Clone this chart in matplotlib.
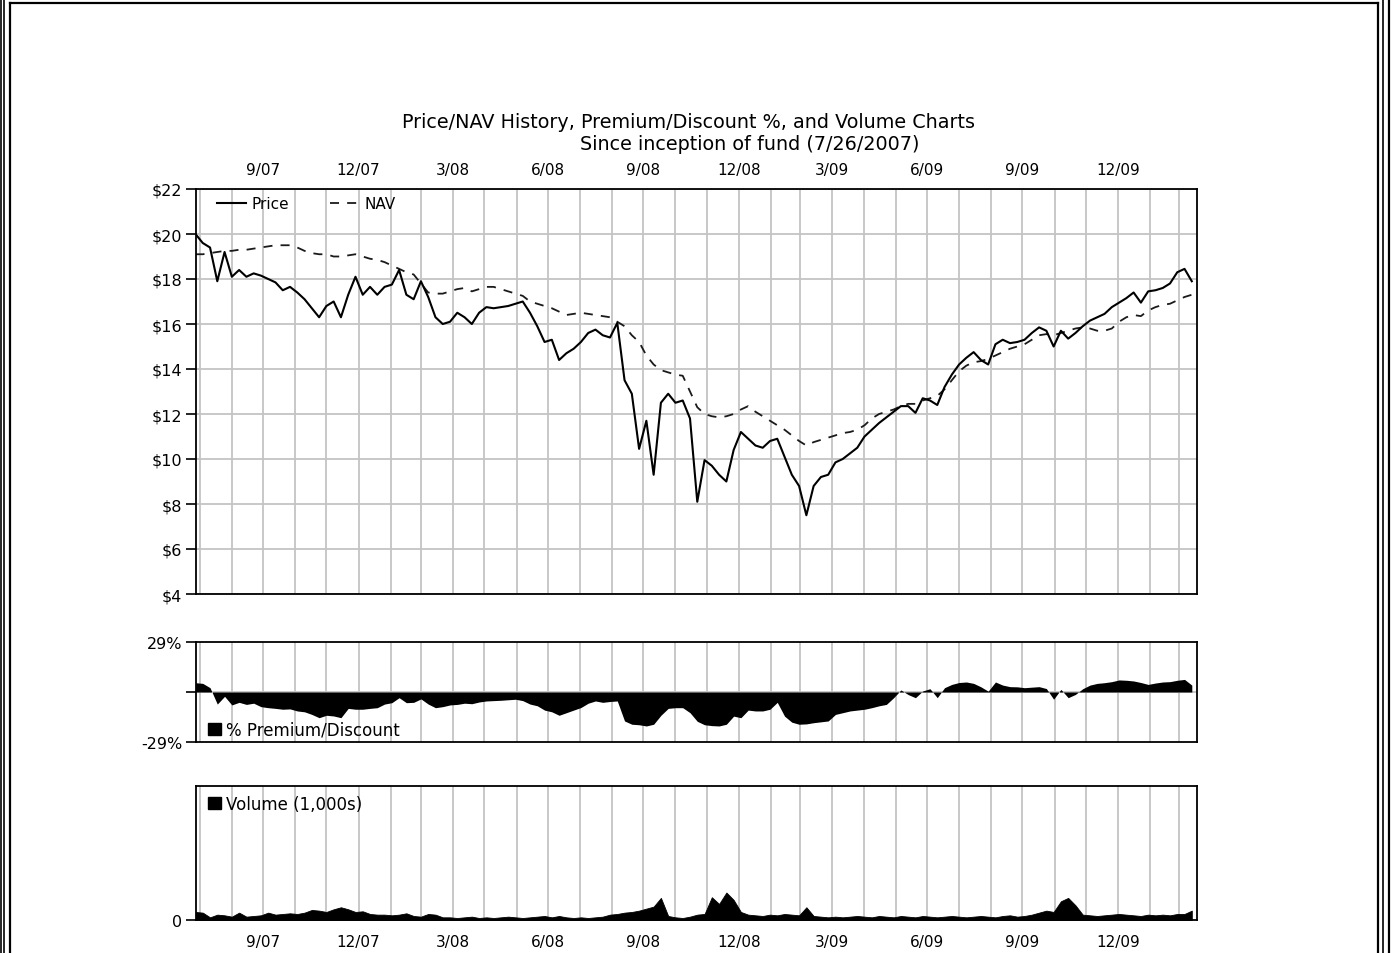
import numpy as np
import pandas as pd
import matplotlib
matplotlib.use("Agg")
import matplotlib.pyplot as plt
from matplotlib.lines import Line2D
from matplotlib.patches import Patch
import matplotlib.dates as mdates

plt.rcParams['font.family'] = ['DejaVu Sans']

# ---------------- data (weekly observations from 7/27/2007) ----------------
start_date = "2007-07-27"

price = [
    20.0, 19.6, 19.4, 17.9, 19.2, 18.1, 18.4, 18.1, 18.25, 18.15,
    18.0, 17.85, 17.5, 17.65, 17.4, 17.1, 16.7, 16.3, 16.8, 17.0,
    16.3, 17.3, 18.1, 17.3, 17.65, 17.3, 17.65, 17.75, 18.4, 17.3,
    17.1, 17.9, 17.2, 16.3, 16.0, 16.1, 16.5, 16.3, 16.0, 16.5,
    16.75, 16.7, 16.75, 16.8, 16.9, 17.0, 16.5, 15.9, 15.2, 15.3,
    14.4, 14.7, 14.9, 15.2, 15.6, 15.75, 15.5, 15.4, 16.05, 13.5,
    12.9, 10.45, 11.7, 9.3, 12.5, 12.9, 12.5, 12.6, 11.8, 8.1,
    9.95, 9.7, 9.3, 9.0, 10.4, 11.2, 10.9, 10.6, 10.5, 10.8,
    10.9, 10.1, 9.3, 8.8, 7.5, 8.8, 9.2, 9.3, 9.85, 10.0,
    10.25, 10.5, 11.0, 11.3, 11.6, 11.85, 12.1, 12.35, 12.35, 12.05,
    12.7, 12.6, 12.4, 13.2, 13.75, 14.2, 14.5, 14.75, 14.4, 14.2,
    15.1, 15.3, 15.15, 15.2, 15.3, 15.6, 15.85, 15.7, 15.0, 15.7,
    15.35, 15.6, 15.9, 16.15, 16.3, 16.45, 16.75, 16.95, 17.15, 17.4,
    16.95, 17.45, 17.5, 17.6, 17.8, 18.3, 18.45, 17.9,
]

nav = [
    19.1, 19.1, 19.15, 19.2, 19.25, 19.25, 19.3, 19.3, 19.35, 19.4,
    19.45, 19.5, 19.5, 19.5, 19.4, 19.25, 19.15, 19.1, 19.1, 19.0,
    19.0, 19.05, 19.1, 19.0, 18.9, 18.85, 18.75, 18.6, 18.45, 18.3,
    18.2, 17.8, 17.4, 17.35, 17.35, 17.45, 17.55, 17.6, 17.45, 17.55,
    17.65, 17.65, 17.55, 17.45, 17.35, 17.25, 17.0, 16.9, 16.8, 16.7,
    16.55, 16.4, 16.45, 16.5, 16.45, 16.4, 16.35, 16.3, 16.1, 15.9,
    15.5, 15.2, 14.6, 14.2, 13.95, 13.85, 13.75, 13.7, 13.0, 12.3,
    12.0, 11.9, 11.85, 11.9, 12.0, 12.2, 12.35, 12.1, 11.9, 11.7,
    11.5, 11.3, 11.05, 10.8, 10.6, 10.75, 10.85, 10.95, 11.05, 11.15,
    11.2, 11.3, 11.5, 11.8, 12.0, 12.1, 12.2, 12.35, 12.45, 12.45,
    12.6, 12.7, 12.8, 13.1, 13.5, 13.9, 14.15, 14.3, 14.35, 14.45,
    14.6, 14.75, 14.9, 15.0, 15.1, 15.3, 15.5, 15.55, 15.5, 15.6,
    15.7, 15.8, 15.85, 15.8, 15.7, 15.7, 15.8, 16.1, 16.3, 16.4,
    16.35, 16.6, 16.75, 16.85, 16.9, 17.05, 17.2, 17.3,
]

premium = [
    5.4, 5.0, 2.5, -7.0, -2.5, -7.5, -6.0, -7.2, -6.5, -8.5,
    -9.1, -9.5, -10.0, -9.8, -11.0, -11.5, -13.0, -14.9, -13.5, -13.9,
    -14.9, -9.5, -10.0, -10.0, -9.5, -9.1, -7.0, -6.2, -3.3, -6.2,
    -6.0, -4.0, -7.0, -9.1, -8.5, -7.5, -7.2, -6.5, -6.8, -5.8,
    -5.2, -5.0, -4.8, -4.5, -4.2, -5.0, -7.0, -8.0, -10.5, -11.5,
    -13.5, -12.0, -10.5, -9.0, -6.5, -5.2, -6.0, -5.5, -5.2, -16.8,
    -18.7, -19.0, -19.7, -18.7, -13.5, -9.5, -9.1, -9.1, -12.0, -17.0,
    -19.0, -19.5, -19.7, -18.7, -14.0, -14.9, -10.5, -11.0, -11.0, -10.0,
    -6.0, -14.0, -17.5, -18.7, -18.5, -17.8, -17.3, -16.8, -13.0, -12.0,
    -11.0, -10.5, -10.0, -9.1, -8.0, -7.2, -3.3, 1.2, -1.5, -3.3,
    0.6, 1.9, -3.3, 2.5, 4.4, 5.5, 5.8, 5.0, 3.0, 0.5,
    5.8, 4.0, 3.1, 3.0, 2.5, 2.8, 3.1, 2.0, -4.2, 1.5,
    -3.3, -1.4, 1.9, 4.0, 5.0, 5.4, 6.0, 7.0, 6.8, 6.4,
    5.5, 4.4, 5.2, 5.8, 6.0, 6.8, 7.3, 4.0,
]

volume = [
    60, 55, 20, 40, 35, 25, 55, 25, 30, 35,
    55, 40, 45, 50, 45, 55, 75, 70, 60, 80,
    95, 80, 60, 65, 45, 40, 40, 35, 40, 50,
    30, 25, 45, 40, 20, 20, 15, 20, 25, 15,
    20, 15, 20, 25, 20, 15, 20, 25, 30, 20,
    30, 20, 15, 20, 15, 20, 25, 40, 45, 55,
    60, 70, 85, 100, 165, 30, 20, 15, 25, 40,
    45, 170, 120, 205, 150, 60, 40, 35, 30, 40,
    35, 45, 40, 35, 95, 30, 25, 20, 25, 20,
    25, 30, 25, 20, 30, 25, 20, 30, 25, 20,
    30, 25, 20, 25, 30, 25, 20, 25, 30, 25,
    20, 30, 35, 25, 30, 40, 55, 70, 60, 140,
    165, 110, 40, 35, 30, 35, 40, 45, 40, 35,
    30, 40, 35, 40, 35, 45, 45, 70,
]

tick_dates = ["2007-09-30", "2007-12-31", "2008-03-31", "2008-06-30", "2008-09-30",
              "2008-12-31", "2009-03-31", "2009-06-30", "2009-09-30", "2009-12-31"]
tick_labels = ["9/07", "12/07", "3/08", "6/08", "9/08", "12/08", "3/09", "6/09", "9/09", "12/09"]
price_ticks = [4, 6, 8, 10, 12, 14, 16, 18, 20, 22]
price_tick_labels = ["$4", "$6", "$8", "$10", "$12", "$14", "$16", "$18", "$20", "$22"]

title_line1 = "Price/NAV History, Premium/Discount %, and Volume Charts"
title_line2 = "Since inception of fund (7/26/2007)"

# ---------------- layout ----------------
W, H = 1395, 954
fig = plt.figure(figsize=(W / 100, H / 100), dpi=100)
fig.patch.set_facecolor("white")

L, R = 196, 1197
ax1 = fig.add_axes([L / W, 1 - 595 / H, (R - L) / W, (595 - 190) / H])
ax2 = fig.add_axes([L / W, 1 - 743 / H, (R - L) / W, (743 - 643) / H])
ax3 = fig.add_axes([L / W, 1 - 921 / H, (R - L) / W, (921 - 787) / H])

dates = pd.date_range(start_date, periods=len(price), freq="7D")
month_ends = pd.date_range("2007-08-01", "2010-03-01", freq="MS") - pd.Timedelta(days=1)
xmin, xmax = pd.Timestamp("2007-07-27 12:00"), pd.Timestamp("2010-03-17")
tick_pos = mdates.date2num(pd.to_datetime(tick_dates))

GRID = "#c4c4c4"
FS = 11

for ax in (ax1, ax2, ax3):
    ax.set_xlim(xmin, xmax)
    ax.set_axisbelow(True)
    for sp in ax.spines.values():
        sp.set_linewidth(1.3)
        sp.set_color("black")
    for md in mdates.date2num(month_ends):
        ax.axvline(md, color=GRID, lw=1.3, zorder=0)
    ax.set_xticks(tick_pos)
    ax.set_xticklabels(tick_labels, fontsize=FS)
    ax.tick_params(axis="x", length=0, pad=8)
    ax.tick_params(axis="y", length=7, width=1.2, direction="out", pad=3, labelsize=11.5)

# --- main price / NAV panel ---
ax1.set_ylim(4, 22)
ax1.set_yticks(price_ticks)
ax1.set_yticklabels(price_tick_labels)
for v in price_ticks:
    ax1.axhline(v, color=GRID, lw=1.3, zorder=0)
ax1.xaxis.tick_top()
ax1.tick_params(axis="x", labeltop=True, labelbottom=False, pad=9)
lp, = ax1.plot(dates, price, color="black", lw=1.5, zorder=3)
ln, = ax1.plot(dates, nav, color="#1a1a1a", lw=1.3, dashes=(5, 4.5), zorder=2)
ax1.legend([lp, ln], ["Price", "NAV"], loc="upper left", ncol=2, frameon=False,
           fontsize=11, handlelength=1.9, handletextpad=0.35, columnspacing=2.7,
           borderpad=0, borderaxespad=0, bbox_to_anchor=(21 / 1001, 1 - 7 / 405))

# --- premium / discount panel ---
ax2.set_ylim(-29, 29)
ax2.set_yticks([-29, 0, 29])
ax2.set_yticklabels(["-29%", "", "29%"])
ax2.axhline(0, color=GRID, lw=1.3, zorder=0)
ax2.fill_between(dates, 0, premium, color="black", lw=0, zorder=3)
ax2.tick_params(axis="x", labelbottom=False)
ax2.legend([Patch(facecolor="black", edgecolor="black")], ["% Premium/Discount"],
           loc="lower left", frameon=False, fontsize=12, handlelength=0.75,
           handleheight=0.75, handletextpad=0.35, borderpad=0, borderaxespad=0,
           bbox_to_anchor=(12 / 1001, 3 / 100))

# --- volume panel ---
ax3.set_ylim(0, 1000)
ax3.set_yticks([0])
ax3.set_yticklabels(["0"])
ax3.fill_between(dates, 0, volume, color="black", lw=0.6, edgecolor="black", zorder=3)
ax3.tick_params(axis="x", labelbottom=True, pad=10)
ax3.legend([Patch(facecolor="black", edgecolor="black")], ["Volume (1,000s)"],
           loc="upper left", frameon=False, fontsize=12, handlelength=0.75,
           handleheight=0.75, handletextpad=0.35, borderpad=0, borderaxespad=0,
           bbox_to_anchor=(12 / 1001, 1 - 9 / 134))

# --- titles ---
fig.text(688 / W, 1 - 122 / H, title_line1, ha="center", va="center", fontsize=13.8)
fig.text(750 / W, 1 - 144 / H, title_line2, ha="center", va="center", fontsize=13.8)

# --- page frame lines ---
def fline(x0, y0, x1, y1, lw=1.5, color="black"):
    fig.add_artist(Line2D([x0 / W, x1 / W], [1 - y0 / H, 1 - y1 / H],
                          transform=fig.transFigure, color=color, lw=lw))

fline(1, 0, 1, H, lw=1.2)
fline(4, 0, 4, H, lw=1.2)
fline(10, 4, 10, H, lw=1.6)
fline(10, 4, 1378, 4, lw=1.6)
fline(1378, 4, 1378, H, lw=1.6)
fline(1383, 0, 1383, H, lw=1.2)
fline(1388.5, 0, 1388.5, H, lw=1.6)

fig.savefig("out.png", dpi=100)
